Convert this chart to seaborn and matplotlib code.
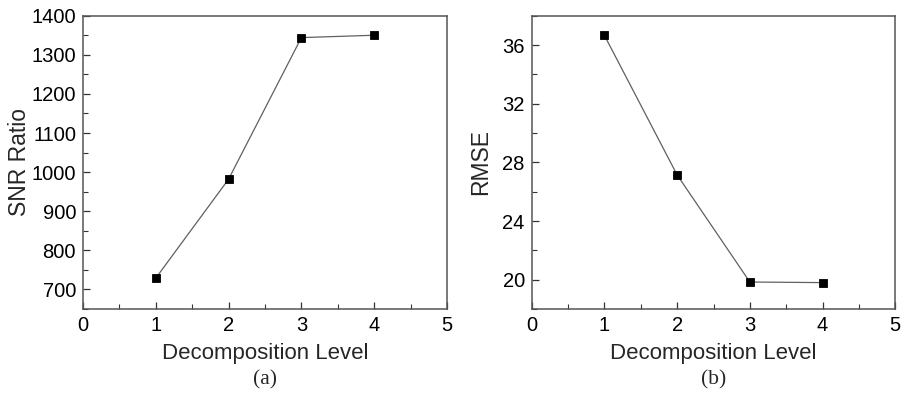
import matplotlib
matplotlib.use("Agg")
import matplotlib.pyplot as plt
from matplotlib.ticker import MultipleLocator
import seaborn as sns
import pandas as pd

levels = [1, 2, 3, 4]
snr_ratio = [729, 982, 1344, 1350]
rmse = [36.66, 27.14, 19.84, 19.80]

sns.set_theme(style="white")
plt.rcParams["font.family"] = ["Liberation Sans", "DejaVu Sans"]

fig = plt.figure(figsize=(9.04, 3.97), dpi=100)
W, H = 904, 397


def add_axes(left, right, top, bottom):
    return fig.add_axes([left / W, (H - bottom) / H, (right - left) / W, (bottom - top) / H])


ax_a = add_axes(83, 447, 15.7, 309)
ax_b = add_axes(531.7, 895.3, 15.7, 309)

panels = [
    (ax_a, snr_ratio, "SNR Ratio", (650, 1400), 100, 50, "(a)", 0.5),
    (ax_b, rmse, "RMSE", (18, 38), 4, 2, "(b)", 7.5),
]

for ax, values, ylabel, ylim, major, minor, tag, ypad in panels:
    df = pd.DataFrame({"level": levels, "value": values})
    sns.lineplot(data=df, x="level", y="value", ax=ax, color="#606060",
                 linewidth=0.9, marker="s", markersize=5.2, markeredgewidth=0.6,
                 markerfacecolor="black", markeredgecolor="black")
    ax.set_xlim(0, 5)
    ax.set_ylim(*ylim)
    ax.xaxis.set_major_locator(MultipleLocator(1))
    ax.xaxis.set_minor_locator(MultipleLocator(0.5))
    ax.yaxis.set_major_locator(MultipleLocator(major))
    ax.yaxis.set_minor_locator(MultipleLocator(minor))
    if ylabel == "RMSE":
        ax.set_yticks([20, 24, 28, 32, 36])
    ax.tick_params(which="both", direction="in", bottom=True, left=True,
                   top=False, right=False, color="#333333", labelsize=14.5,
                   labelcolor="black")
    ax.tick_params(which="major", length=5, width=0.9, pad=5)
    ax.tick_params(which="minor", length=3.5, width=0.8)
    for s in ax.spines.values():
        s.set_color("#555555")
        s.set_linewidth(1.1)
        s.set_visible(True)
    ax.set_xlabel("Decomposition Level", fontsize=16, labelpad=6)
    ax.set_ylabel(ylabel, fontsize=16.5, labelpad=ypad)
    ax.text(0.5, -0.24, tag, transform=ax.transAxes, ha="center", va="center",
            fontsize=15.5, family=["Liberation Serif", "DejaVu Serif"])

fig.savefig("out.png", dpi=100, facecolor="white")
